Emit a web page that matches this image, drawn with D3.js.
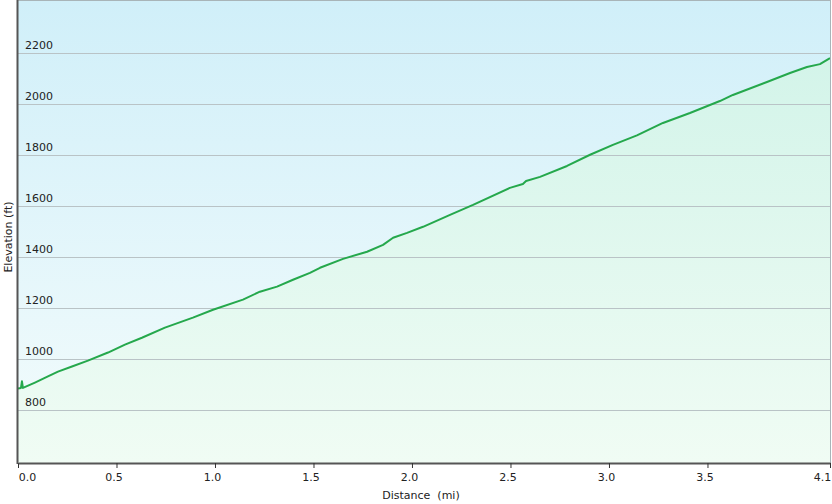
<!DOCTYPE html>
<html><head><meta charset="utf-8">
<script src="https://cdn.jsdelivr.net/npm/d3@7"></script>
<style>body{margin:0;background:#fff}svg{display:block}text{font-family:"DejaVu Sans",Verdana,sans-serif}</style>
</head><body><svg id="c" width="832" height="504"></svg>
<script>
const distance = [0,0.015,0.02,0.025,0.086,0.152,0.203,0.274,0.355,0.457,0.543,0.629,0.746,0.888,0.990,1.142,1.228,1.315,1.396,1.482,1.533,1.650,1.772,1.853,1.904,1.975,2.056,2.193,2.310,2.497,2.563,2.579,2.650,2.787,2.904,3.020,3.142,3.274,3.411,3.563,3.629,3.802,3.919,4.005,4.071,4.122];
const elevation = [884,886,912,886,907,931,950,970,993,1025,1056,1083,1123,1162,1193,1233,1264,1284,1311,1338,1358,1393,1421,1448,1476,1495,1519,1566,1605,1672,1687,1699,1715,1758,1802,1841,1878,1927,1966,2013,2037,2088,2123,2147,2158,2182];
const yTicks = [800,1000,1200,1400,1600,1800,2000,2200];
const xTicks = [0,0.5,1.0,1.5,2.0,2.5,3.0,3.5,4.122];
const xTitle = "Distance  (mi)";
const yTitle = "Elevation (ft)";

const svg = d3.select("#c");
const L = 18, R = 830, T = 0, B = 463;
const x = d3.scaleLinear().domain([0, 4.122]).range([L, R]);
const y = d3.scaleLinear().domain([591, 2410]).range([B, T]);
const FS = "11px";

const defs = svg.append("defs");
const bg = defs.append("linearGradient").attr("id","bg").attr("x1",0).attr("y1",0).attr("x2",0).attr("y2",1);
bg.append("stop").attr("offset","0%").attr("stop-color","#d0eff9");
bg.append("stop").attr("offset","100%").attr("stop-color","#f4fcfc");
const ag = defs.append("linearGradient").attr("id","ag").attr("gradientUnits","userSpaceOnUse").attr("x1",0).attr("y1",T).attr("x2",0).attr("y2",B);
ag.append("stop").attr("offset","0%").attr("stop-color","#cff3e8");
ag.append("stop").attr("offset","100%").attr("stop-color","#f0fcf4");

svg.append("rect").attr("x",L).attr("y",T).attr("width",R-L).attr("height",B-T).attr("fill","url(#bg)");

const data = distance.map((d,i)=>[d, elevation[i]]);
svg.append("path").datum(data)
  .attr("d", d3.area().x(d=>x(d[0])).y0(B).y1(d=>y(d[1])))
  .attr("fill","url(#ag)");

svg.append("g").selectAll("line").data(yTicks).join("line")
  .attr("x1",L).attr("x2",R).attr("y1",d=>Math.round(y(d))+0.5).attr("y2",d=>Math.round(y(d))+0.5)
  .attr("stroke","#b9c3c6").attr("stroke-width",1.2);

svg.append("g").selectAll("text").data(yTicks).join("text")
  .attr("x",25).attr("y",d=>y(d)-4).attr("font-size",FS).attr("fill","#222").text(d=>d);

svg.append("path").datum(data)
  .attr("d", d3.line().x(d=>x(d[0])).y(d=>y(d[1])))
  .attr("fill","none").attr("stroke","#25a84c").attr("stroke-width",2).attr("stroke-linejoin","round");

// frame
svg.append("line").attr("x1",L).attr("x2",R).attr("y1",0.5).attr("y2",0.5).attr("stroke","#a8b4b8");
svg.append("line").attr("x1",R+0.5).attr("x2",R+0.5).attr("y1",T).attr("y2",B).attr("stroke","#a8b4b8");

// axes
const xa = svg.append("g").attr("transform",`translate(0,${B})`)
  .call(d3.axisBottom(x).tickValues(xTicks).tickFormat(d3.format(".1f")).tickSize(5).tickSizeOuter(0));
xa.select(".domain").attr("stroke","#555").attr("stroke-width",2);
xa.selectAll(".tick line").attr("stroke","#333");
xa.selectAll(".tick text").attr("font-size",FS).attr("fill","#222").attr("font-family","DejaVu Sans, Verdana, sans-serif").attr("dy","0.95em")
  .attr("dx",(d,i)=> i===0 ? 9 : (i===xTicks.length-1 ? -8 : -3));

svg.append("line").attr("x1",L-0.5).attr("x2",L-0.5).attr("y1",T).attr("y2",B+1).attr("stroke","#555").attr("stroke-width",2);

svg.append("text").attr("x",421).attr("y",499).attr("text-anchor","middle").attr("font-size",FS).attr("fill","#222").attr("xml:space","preserve").style("white-space","pre").text(xTitle);
svg.append("text").attr("transform","translate(12,237) rotate(-90)").attr("text-anchor","middle").attr("font-size",FS).attr("fill","#222").text(yTitle);
</script></body></html>
